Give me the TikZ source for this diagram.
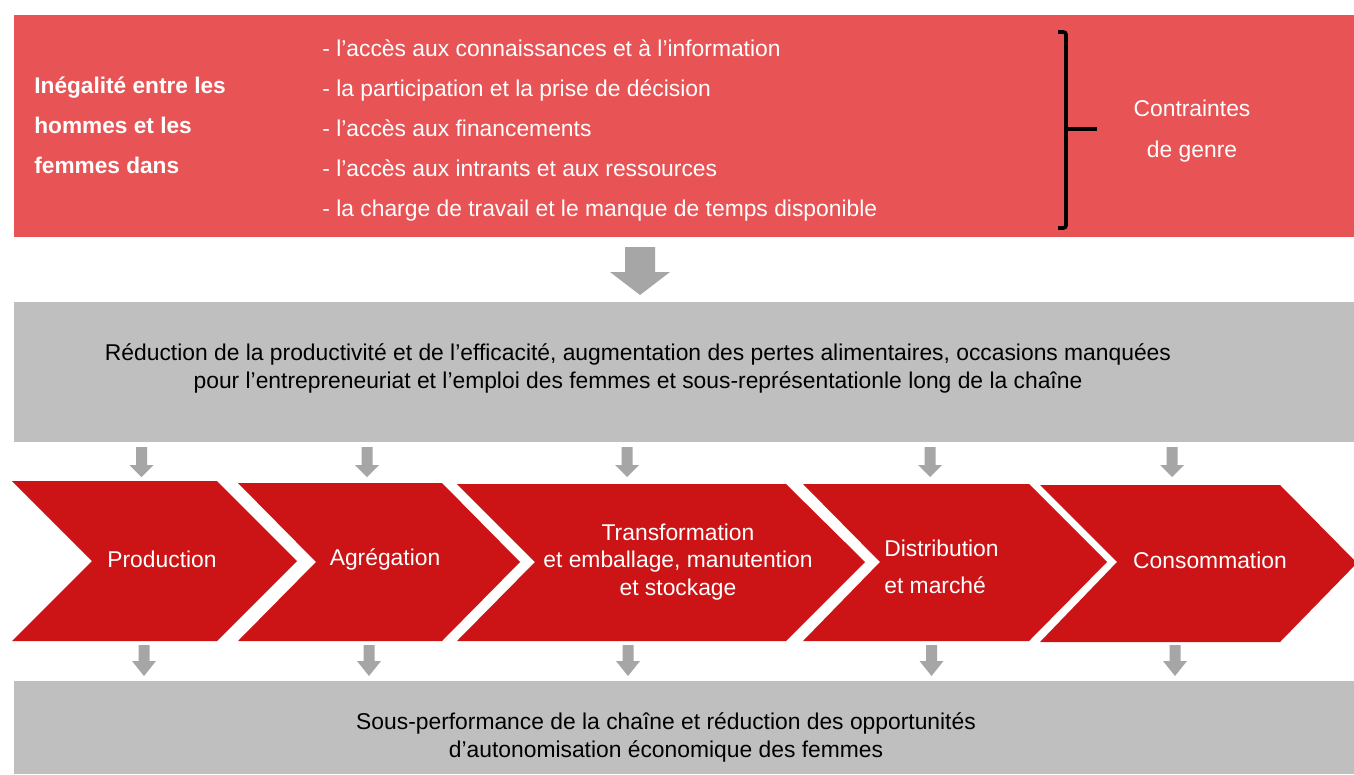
\documentclass[tikz,border=0pt]{standalone}
\usepackage{fontspec}
\setmainfont{Liberation Sans}
\usepackage{tikz}
\definecolor{genrered}{RGB}{232, 83, 85}
\definecolor{chainred}{RGB}{204, 20, 23}
\definecolor{boxgrey}{RGB}{191, 191, 191}
\definecolor{arrowgrey}{RGB}{166, 166, 166}

\begin{document}
\begin{tikzpicture}[x = 0.02cm, y = -0.02cm, font = \fontsize{13}{15.5}\selectfont,
	whitelabel/.style = {text = white, inner sep = 0pt},
	blacklabel/.style = {text = black, inner sep = 0pt, align = center, font = \fontsize{13}{16.44}\selectfont}]
	\useasboundingbox (0,0) rectangle (1354,774);
	\fill[white] (0,0) rectangle (1354,774);
	\fill[genrered] (14,15) rectangle (1354,237);
	\fill[boxgrey] (14,302) rectangle (1354,442);
	\fill[boxgrey] (14,681) rectangle (1354,774);

	\node (ineg) at (34,125.5) [whitelabel, anchor = west, align = left, font = \fontsize{12.9}{22.68}\selectfont\bfseries] {Inégalité entre les\\hommes et les\\femmes dans};
	\node (list) at (322,130.5) [whitelabel, anchor = west, align = left, font = \fontsize{13}{22.68}\selectfont] {- l’accès aux connaissances et à l’information\\- la participation et la prise de décision\\- l’accès aux financements\\- l’accès aux intrants et aux ressources\\- la charge de travail et le manque de temps disponible};
	\node (contr) at (1192,131.5) [whitelabel, align = center, font = \fontsize{13}{23.24}\selectfont] {Contraintes\\de genre};
	\draw[line width = 2.1pt, rounded corners = 1.5pt] (1058,32) -- (1066,32) -- (1066,228) -- (1058,228);
	\draw[line width = 2.1pt] (1066,129) -- (1097,129);

	\fill[arrowgrey] (625,247) -- (655,247) -- (655,272) -- (670,272) -- (640,295) -- (610,272) -- (625,272) -- cycle;

	\node (reduc) at (638,368.5) [blacklabel] {Réduction de la productivité et de l’efficacité, augmentation des pertes alimentaires, occasions manquées\\pour l’entrepreneuriat et l’emploi des femmes et sous-représentationle long de la chaîne};

	\foreach \x in {141.5, 367, 627, 930, 1172}
		\fill[arrowgrey] (\x-5.5,447) -- (\x+5.5,447) -- (\x+5.5,465) -- (\x+12,465) -- (\x,477) -- (\x-12,465) -- (\x-5.5,465) -- cycle;
	\foreach \x in {144, 369, 628, 931.5, 1175}
		\fill[arrowgrey] (\x-5.5,645) -- (\x+5.5,645) -- (\x+5.5,661) -- (\x+12,661) -- (\x,676) -- (\x-12,661) -- (\x-5.5,661) -- cycle;

	\fill[chainred] (12,481) -- (217,481) -- (297,561) -- (217,641) -- (12,641) -- (92,561) -- cycle;
	\fill[chainred] (238,483) -- (442,483) -- (520,562) -- (442,641) -- (238,641) -- (316,562) -- cycle;
	\fill[chainred] (457,484) -- (786,484) -- (865,562) -- (786,641) -- (457,641) -- (535,562) -- cycle;
	\fill[chainred] (803,484) -- (1029,484) -- (1107,562) -- (1029,641) -- (803,641) -- (880,562) -- cycle;
	\fill[chainred] (1040,485) -- (1280,485) -- (1357,563) -- (1280,642) -- (1040,642) -- (1117,562) -- cycle;

	\node (prod) at (162,559) [whitelabel] {Production};
	\node (agreg) at (385,559) [whitelabel] {Agrégation};
	\node (transf) at (678,562) [whitelabel, align = center, font = \fontsize{13}{15.59}\selectfont] {Transformation\\et emballage, manutention\\et stockage};
	\node (distr) at (884,566.5) [whitelabel, anchor = west, align = left, font = \fontsize{13}{20.98}\selectfont] {Distribution\\et marché};
	\node (conso) at (1210,560) [whitelabel] {Consommation};

	\node (sousperf) at (666,737.5) [blacklabel] {Sous-performance de la chaîne et réduction des opportunités\\d’autonomisation économique des femmes};
\end{tikzpicture}
\end{document}
